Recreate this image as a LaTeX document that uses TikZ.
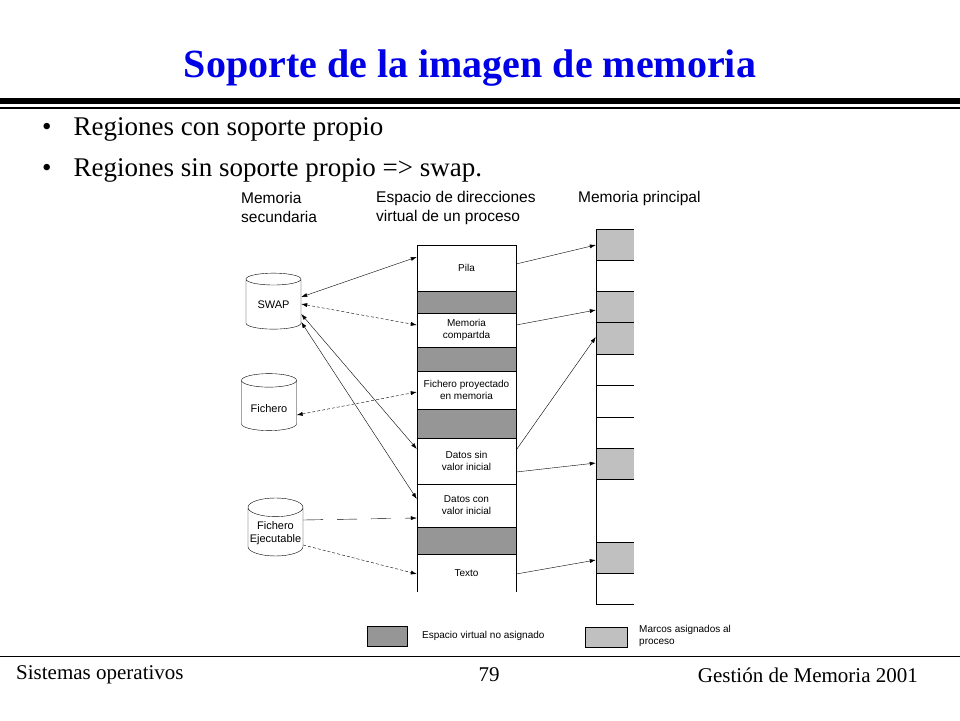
\documentclass[tikz,border=0pt]{standalone}
\usepackage{fontspec}
\setmainfont{Liberation Serif}
\setsansfont{Liberation Sans}
\usetikzlibrary{arrows.meta, shapes.geometric}
\definecolor{titleblue}{RGB}{0,0,230}
\definecolor{freegray}{RGB}{150,150,150}
\definecolor{framegray}{RGB}{192,192,192}
\begin{document}
\begin{tikzpicture}[x=1pt, y=-1pt,
            >={Latex[length=6pt,width=4pt]},
                base/.style = {inner sep=0pt, font=\sffamily\fontsize{10}{12}\selectfont, align=left},
                region/.style = {base, minimum width=99pt, align=center},
                freezone/.style = {region, fill=freegray},
                frame/.style = {inner sep=0pt, minimum width=38pt, fill=framegray},
                disk/.style = {cylinder, shape border rotate=90, draw, aspect=0.35,
                            minimum width=55pt, inner sep=1pt, font=\sffamily\fontsize{11}{13}\selectfont, align=center},
                header/.style = {base, anchor=west, font=\sffamily\fontsize{15.5}{19}\selectfont},
                bigtext/.style = {anchor=west, inner sep=0pt, font=\fontsize{27}{30}\selectfont},
                foot/.style = {inner sep=0pt, font=\fontsize{21}{24}\selectfont},
            dashedlink/.style = {densely dashed, <->},
            align=center]
            \useasboundingbox (0,0) rectangle (960,720);
            % title and bullets
            \node (title) [font=\bfseries\fontsize{40}{46}\selectfont, text=titleblue] at (470,68) {Soporte de la imagen de memoria};
            \fill (0,98) rectangle (960,104);
            \draw[line width=1.2pt] (0,108) -- (960,108);
            \node (b1) [bigtext] at (42,129) {•\hspace{22pt}Regiones con soporte propio};
            \node (b2) [bigtext] at (42,170) {•\hspace{22pt}Regiones sin soporte propio => swap.};
            % headers
            \node (hsec) [header] at (241,207.5) {Memoria\\secundaria};
            \node (hvirt) [header] at (376,207.5) {Espacio de direcciones\\virtual de un proceso};
            \node (hmain) [header] at (578,198) {Memoria principal};
            % virtual address space
            \node (Pila) [region, minimum height=46pt] at (466.5,268) {Pila};
            \node (free1) [freezone, minimum height=22pt] at (466.5,302) {};
            \node (Compartida) [region, minimum height=34pt] at (466.5,330) {Memoria\\compartda};
            \node (free2) [freezone, minimum height=24pt] at (466.5,359) {};
            \node (Proyectado) [region, minimum height=38pt] at (466.5,390) {Fichero proyectado\\en memoria};
            \node (free3) [freezone, minimum height=29pt] at (466.5,423.5) {};
            \node (DatosSin) [region, minimum height=46pt] at (466.5,461) {Datos sin\\valor inicial};
            \node (DatosCon) [region, minimum height=43pt] at (466.5,505.5) {Datos con\\valor inicial};
            \node (free4) [freezone, minimum height=27pt] at (466.5,540.5) {};
            \node (Texto) [region, minimum height=38pt] at (466.5,573) {Texto};
            \draw (417,592) -- (417,245) -- (516,245) -- (516,592);
            \foreach \y in {291,313,347,371,409,438,484,527,554}
                \draw (417,\y) -- (516,\y);
            % main memory
            \node (m1) [frame, minimum height=31pt] at (615,244.5) {};
            \node (m2) [frame, minimum height=31pt] at (615,306.5) {};
            \node (m3) [frame, minimum height=32pt] at (615,338) {};
            \node (m4) [frame, minimum height=31pt] at (615,463.5) {};
            \node (m5) [frame, minimum height=31pt] at (615,557.5) {};
            \draw (596,229) -- (596,604) -- (634,604);
            \foreach \y in {229,260,291,322,354,385,417,448,479,542,573}
                \draw (596,\y) -- (634,\y);
            % secondary storage
            \node (SWAP) [disk, minimum height=56pt] at (273.5,305) {SWAP};
            \node (Fichero) [disk, minimum height=57pt] at (269,406.5) {\\Fichero};
            \node (Ejecutable) [disk, minimum height=58pt] at (275.5,533) {Fichero\\Ejecutable};
            % connectors
            \draw[<->] (SWAP.east |- 0,297) -- (Pila.west |- 0,257);
            \draw[dashedlink] (SWAP.east |- 0,304) -- (Compartida.west |- 0,325);
            \draw[<->] (SWAP.east |- 0,314) -- (DatosSin.west |- 0,449);
            \draw[<->] (SWAP.east |- 0,322) -- (DatosCon.west |- 0,499);
            \draw[dashedlink] (Fichero.east |- 0,415) -- (Proyectado.west |- 0,392);
            \draw[->, dash pattern=on 20pt off 14pt] (Ejecutable.east |- 0,520) -- (DatosCon.west |- 0,518);
            \draw[->, densely dashed] (Ejecutable.east |- 0,545) -- (Texto.west |- 0,574);
            \draw[->] (Pila.east |- 0,264) -- (m1.west |- 0,245);
            \draw[->] (Compartida.east |- 0,325) -- (m2.west |- 0,310);
            \draw[->] (DatosSin.east |- 0,450) -- (m3.west |- 0,337);
            \draw[->] (DatosSin.east |- 0,472) -- (m4.west |- 0,463);
            \draw[->] (Texto.east |- 0,574) -- (m5.west |- 0,560);
            % legend
            \node (legfree) [draw, fill=freegray, minimum width=40pt, minimum height=20pt, inner sep=0pt] at (387,636) {};
            \node (legfreetxt) [base, anchor=west] at (422,636) {Espacio virtual no asignado};
            \node (legframe) [draw, fill=framegray, minimum width=42pt, minimum height=20pt, inner sep=0pt] at (606,637) {};
            \node (legframetxt) [base, anchor=west] at (639,636) {Marcos asignados al\\proceso};
            % footer
            \draw (0,656) -- (960,656);
            \node (f1) [foot, anchor=west] at (16,675) {Sistemas operativos};
            \node (f2) [foot] at (489,675) {79};
            \node (f3) [foot, anchor=east] at (918,675) {Gestión de Memoria 2001};
\end{tikzpicture}
\end{document}
